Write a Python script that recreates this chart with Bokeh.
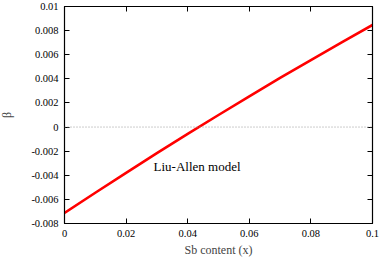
from bokeh.plotting import figure
from bokeh.models import Range1d, LinearAxis, Span, FixedTicker, Label
from bokeh.embed import file_html
from bokeh.resources import INLINE

# Data
sb_content = [0.0, 0.01, 0.02, 0.03, 0.04, 0.05, 0.06, 0.07, 0.08, 0.09, 0.1]
beta = [-0.00713, -0.00545, -0.0038, -0.00217, -0.00057, 0.0010, 0.00255, 0.00407, 0.00556, 0.00703, 0.00847]

x_ticks = [0.0, 0.02, 0.04, 0.06, 0.08, 0.1]
x_tick_labels = ["0", "0.02", "0.04", "0.06", "0.08", "0.1"]
y_ticks = [-0.008, -0.006, -0.004, -0.002, 0.0, 0.002, 0.004, 0.006, 0.008, 0.01]
y_tick_labels = ["-0.008", "-0.006", "-0.004", "-0.002", "0", "0.002", "0.004", "0.006", "0.008", "0.01"]

model_label = "Liu-Allen model"
x_title = "Sb content (x)"
y_title = "\u03b2"

FONT = "Liberation Serif"

p = figure(width=389, height=267, output_backend="svg", toolbar_location=None,
           x_range=Range1d(0, 0.1), y_range=Range1d(-0.008, 0.01),
           min_border_left=72, min_border_right=9, min_border_top=14, min_border_bottom=35,
           x_axis_location=None, y_axis_location=None)
p.styles = {"margin-left": "-8px", "margin-top": "-8px"}
p.grid.visible = False
p.outline_line_color = "black"
p.outline_line_width = 1
p.background_fill_color = "white"
p.border_fill_color = "white"


def style_axis(ax, ticks, labels, show_labels):
    ax.ticker = FixedTicker(ticks=ticks)
    ax.major_tick_in = 5
    ax.major_tick_out = 0
    ax.minor_tick_in = 0
    ax.minor_tick_out = 0
    ax.axis_line_color = "black"
    ax.axis_line_width = 1.2
    ax.major_tick_line_color = "black"
    ax.major_tick_line_width = 1
    ax.major_label_text_font = FONT
    ax.major_label_text_color = "black"
    ax.major_label_text_font_size = "10.5px"
    if show_labels:
        ax.major_label_overrides = {t: l for t, l in zip(ticks, labels)}
    else:
        ax.major_label_overrides = {t: "" for t in ticks}
        ax.major_label_standoff = 0


bottom = LinearAxis()
style_axis(bottom, x_ticks, x_tick_labels, True)
bottom.major_label_standoff = 6
bottom.axis_label = x_title
bottom.axis_label_text_font = FONT
bottom.axis_label_text_font_size = "12px"
bottom.axis_label_text_font_style = "normal"
bottom.axis_label_standoff = 3
p.add_layout(bottom, "below")

left = LinearAxis()
style_axis(left, y_ticks, y_tick_labels, True)
left.major_label_standoff = 6
left.axis_label = y_title
left.axis_label_text_font = FONT
left.axis_label_text_font_size = "12px"
left.axis_label_text_font_style = "normal"
left.axis_label_standoff = 14
p.add_layout(left, "left")

top = LinearAxis()
style_axis(top, x_ticks, x_tick_labels, False)
p.add_layout(top, "above")

right = LinearAxis()
style_axis(right, y_ticks, y_tick_labels, False)
p.add_layout(right, "right")

zero = Span(location=0, dimension="width", line_color="#999999", line_width=1, line_dash="1 2")
p.add_layout(zero)

p.line(sb_content, beta, line_color="#ff0000", line_width=2.6)

p.add_layout(Label(x=0.0289, y=-0.00331, text=model_label, text_font=FONT,
                   text_font_size="13px", text_color="black", text_baseline="alphabetic"))

open("out.html", "w").write(file_html(p, INLINE))
